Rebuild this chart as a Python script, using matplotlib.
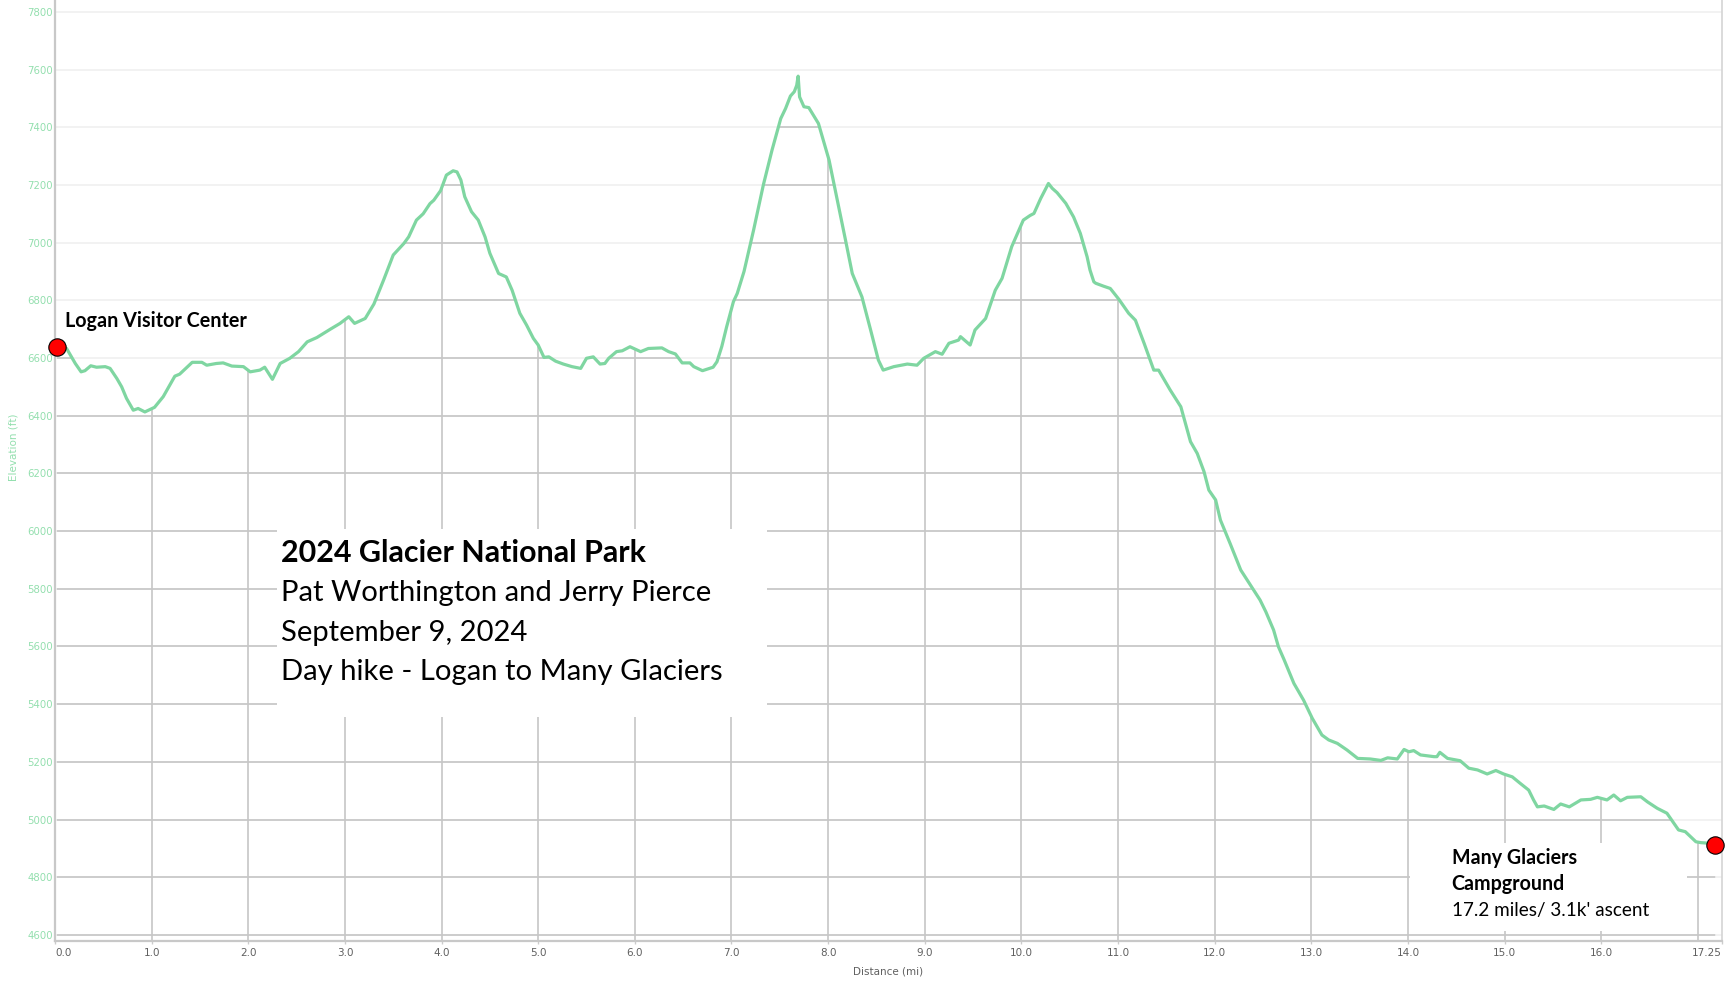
import numpy as np
import matplotlib
matplotlib.use("Agg")
import matplotlib.pyplot as plt
from matplotlib.patches import Polygon, Rectangle

# distance (mi) / elevation (ft)
distance = [
    0.02, 0.12, 0.21, 0.27, 0.31, 0.37, 0.43, 0.52, 0.57, 0.64, 0.69, 0.74, 0.81, 0.86, 0.93,
    1.03, 1.12, 1.24, 1.29, 1.42, 1.52, 1.57, 1.67, 1.74, 1.83, 1.95, 2.02, 2.12, 2.17, 2.25,
    2.33, 2.43, 2.52, 2.61, 2.71, 2.85, 2.95, 3.04, 3.10, 3.21, 3.30, 3.40, 3.50, 3.61, 3.66,
    3.74, 3.81, 3.88, 3.92, 3.99, 4.05, 4.12, 4.16, 4.20, 4.24, 4.31, 4.38, 4.45, 4.50, 4.59,
    4.67, 4.73, 4.81, 4.88, 4.95, 5.00, 5.06, 5.11, 5.18, 5.26, 5.35, 5.44, 5.50, 5.57, 5.64,
    5.69, 5.73, 5.81, 5.87, 5.95, 6.06, 6.14, 6.28, 6.35, 6.42, 6.49, 6.57, 6.61, 6.70, 6.81,
    6.85, 6.90, 6.95, 7.02, 7.06, 7.13, 7.23, 7.33, 7.42, 7.51, 7.56, 7.61, 7.65, 7.675, 7.69,
    7.705, 7.75, 7.80, 7.87, 7.90, 7.97, 8.01, 8.11, 8.18, 8.25, 8.35, 8.44, 8.52, 8.57, 8.68,
    8.82, 8.92, 8.99, 9.11, 9.18, 9.25, 9.35, 9.37, 9.47, 9.52, 9.63, 9.73, 9.80, 9.90, 10.02,
    10.09, 10.13, 10.20, 10.28, 10.32, 10.37, 10.46, 10.54, 10.61, 10.68, 10.71, 10.75, 10.77,
    10.85, 10.92, 11.01, 11.11, 11.18, 11.27, 11.37, 11.42, 11.54, 11.65, 11.75, 11.82, 11.89,
    11.94, 12.01, 12.06, 12.16, 12.27, 12.37, 12.47, 12.53, 12.61, 12.66, 12.72, 12.82, 12.92,
    13.01, 13.11, 13.18, 13.27, 13.37, 13.48, 13.61, 13.72, 13.79, 13.89, 13.96, 14.01, 14.06,
    14.13, 14.27, 14.30, 14.33, 14.41, 14.54, 14.63, 14.72, 14.82, 14.91, 14.99, 15.08, 15.16,
    15.25, 15.30, 15.34, 15.41, 15.51, 15.58, 15.67, 15.79, 15.89, 15.96, 16.06, 16.13, 16.20,
    16.27, 16.41, 16.48, 16.58, 16.68, 16.73, 16.80, 16.87, 16.98, 17.03, 17.11, 17.18,
]
elevation = [
    6638, 6633, 6581, 6552, 6556, 6573, 6568, 6570, 6564, 6529, 6500, 6460, 6419, 6425, 6413,
    6429, 6466, 6537, 6544, 6585, 6585, 6575, 6581, 6583, 6572, 6570, 6552, 6558, 6568, 6526,
    6581, 6599, 6622, 6656, 6671, 6700, 6720, 6743, 6720, 6737, 6787, 6870, 6957, 6997, 7020,
    7078, 7100, 7135, 7147, 7180, 7234, 7249, 7245, 7217, 7159, 7107, 7078, 7020, 6963, 6893,
    6881, 6835, 6755, 6714, 6668, 6645, 6602, 6604, 6589, 6579, 6570, 6564, 6599, 6604, 6579,
    6581, 6599, 6622, 6625, 6639, 6622, 6633, 6635, 6622, 6614, 6583, 6583, 6570, 6556, 6568,
    6587, 6640, 6708, 6795, 6824, 6900, 7045, 7200, 7321, 7430, 7465, 7508, 7523, 7545, 7577,
    7505, 7471, 7468, 7430, 7413, 7332, 7286, 7124, 7009, 6893, 6812, 6697, 6593, 6558, 6570,
    6579, 6575, 6599, 6622, 6613, 6651, 6662, 6674, 6645, 6697, 6737, 6835, 6876, 6986, 7078,
    7094, 7101, 7153, 7205, 7188, 7173, 7136, 7089, 7032, 6951, 6905, 6864, 6859,
    6849, 6841, 6803, 6755, 6731, 6651, 6558, 6558, 6489, 6431, 6310, 6269, 6206,
    6142, 6108, 6038, 5957, 5865, 5813, 5761, 5720, 5657, 5599, 5553, 5472, 5414,
    5351, 5293, 5276, 5264, 5241, 5212, 5210, 5205, 5214, 5210, 5243, 5235, 5239,
    5224, 5218, 5218, 5233, 5212, 5204, 5178, 5172, 5158, 5170, 5158, 5148, 5126,
    5102, 5068, 5044, 5047, 5035, 5054, 5044, 5068, 5070, 5077, 5068, 5085, 5065,
    5077, 5079, 5061, 5039, 5022, 4998, 4964, 4958, 4923, 4920, 4918, 4912,
]

y_ticks = list(range(4600, 7801, 200))
x_grid = list(range(1, 18))
x_ticks = [float(i) for i in range(0, 17)] + [17.25]
x_tick_labels = [f"{t:.1f}" for t in range(0, 17)] + ["17.25"]

title_lines = [
    "2024 Glacier National Park",
    "Pat Worthington and Jerry Pierce",
    "September 9, 2024",
    "Day hike - Logan to Many Glaciers",
]
start_label = "Logan Visitor Center"
end_label = ["Many Glaciers", "Campground", "17.2 miles/ 3.1k' ascent"]

LINE = "#7fd6a1"
TICK_GREEN = "#93dfae"
W, H = 1726, 983
XMIN, XMAX = 0, 17.25
YMIN, YMAX = 4579, 7841


def px(x, y):
    return x / W, 1 - y / H


fig = plt.figure(figsize=(W / 100, H / 100), dpi=100)
ax = fig.add_axes([55 / W, (H - 941) / H, (1722 - 55) / W, 941 / H])
ax.set_xlim(XMIN, XMAX)
ax.set_ylim(YMIN, YMAX)

x = np.array(distance)
y = np.array(elevation)

# area under the profile, used to clip the darker grid
verts = [(x[0], YMIN)] + list(zip(x, y)) + [(x[-1], YMIN)]
clip = Polygon(verts, closed=True, facecolor="none", edgecolor="none",
               transform=ax.transData)
ax.add_patch(clip)

for yt in y_ticks:
    ax.axhline(yt, color="#f1f1f1", lw=1.3, zorder=1)
    dark = ax.axhline(yt, color="#c6c6c6", lw=1.2, zorder=2)
    dark.set_clip_path(clip)
for xg in x_grid:
    v = ax.axvline(xg, color="#c6c6c6", lw=1.2, zorder=2)
    v.set_clip_path(clip)

# white boxes behind the labels
ax.add_patch(Rectangle((2.30, 5357), 7.37 - 2.30, 6006 - 5357,
                       facecolor="white", edgecolor="none", zorder=3))
ax.add_patch(Rectangle((14.02, 4615), 16.89 - 14.02, 4920 - 4615,
                       facecolor="white", edgecolor="none", zorder=3))

ax.plot(x, y, color=LINE, lw=2.3, zorder=4, solid_joinstyle="round")
ax.plot([x[0], x[-1]], [y[0], y[-1]], ls="none", marker="o", ms=12.5,
        mfc="#ff0000", mec="black", mew=0.8, zorder=6, clip_on=False)

ax.spines["top"].set_visible(False)
ax.spines["left"].set_color("#c8c8c8")
ax.spines["left"].set_linewidth(1.6)
ax.spines["bottom"].set_color("#c8c8c8")
ax.spines["bottom"].set_linewidth(1.6)
ax.spines["right"].set_color("#d4d4d4")
ax.spines["right"].set_linewidth(1.2)

ax.set_yticks(y_ticks)
ax.set_yticklabels([str(t) for t in y_ticks])
ax.tick_params(axis="y", length=0, pad=1.5, labelsize=7.3, labelcolor=TICK_GREEN)
ax.set_xticks(x_ticks)
ax.set_xticklabels(x_tick_labels)
ax.tick_params(axis="x", length=2, width=1, color="#cccccc", pad=3,
               labelsize=7.5, labelcolor="#606060")
labels = ax.get_xticklabels()
labels[0].set_horizontalalignment("left")
labels[-1].set_horizontalalignment("right")

fig.text(*px(888, 971), "Distance (mi)", ha="center", va="center",
         fontsize=7.5, color="#606060")
fig.text(*px(13, 447), "Elevation (ft)", ha="center", va="center",
         rotation=90, fontsize=7.5, color=TICK_GREEN)

font = "Lato"
fig.text(*px(65, 326.7), start_label, fontsize=14.2, fontweight="bold",
         family=font, va="baseline", zorder=7)

baselines = [561.7, 601, 640.5, 680]
for i, (line, b) in enumerate(zip(title_lines, baselines)):
    fig.text(*px(281, b), line, fontsize=21.9 if i == 0 else 21.1, family=font,
             fontweight="bold" if i == 0 else "normal", va="baseline", zorder=7)

end_sizes = [14.1, 14.1, 13.6]
for i, (line, b) in enumerate(zip(end_label, [864, 889.5, 915.7])):
    fig.text(*px(1451.7, b), line, fontsize=end_sizes[i], family=font,
             fontweight="bold" if i < 2 else "normal", va="baseline", zorder=7)

fig.savefig("out.png", dpi=100)
